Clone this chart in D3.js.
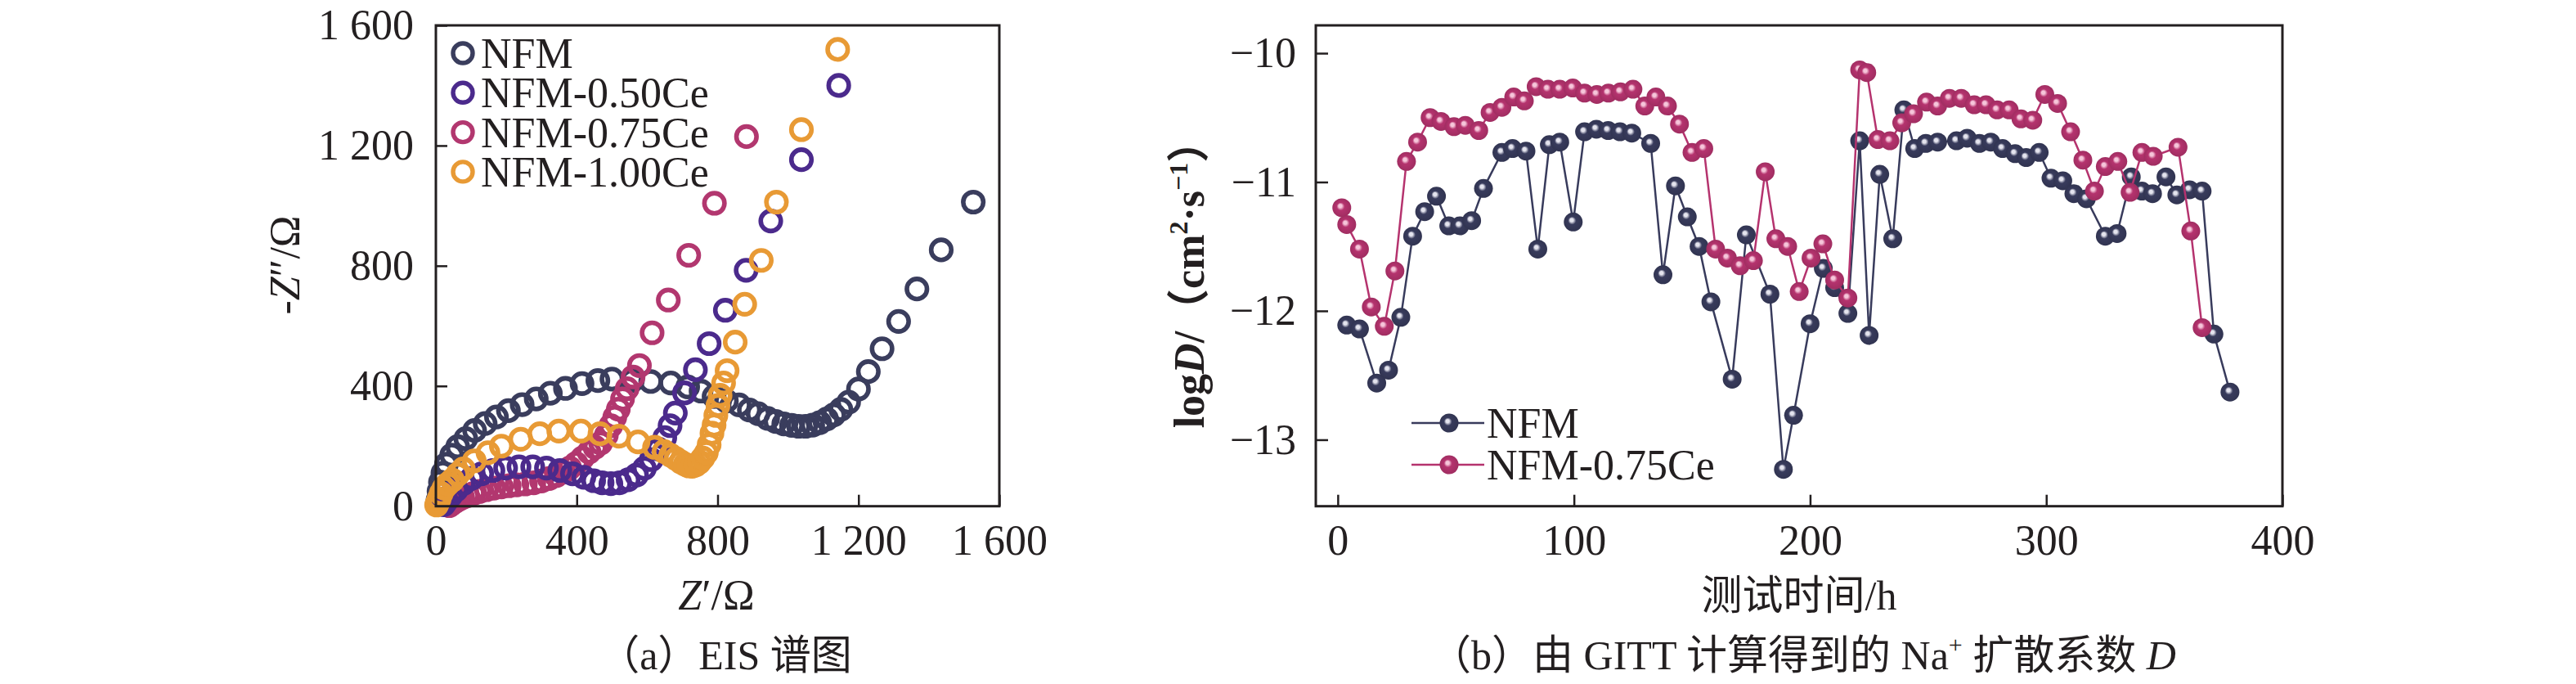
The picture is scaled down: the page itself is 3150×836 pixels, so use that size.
<!DOCTYPE html>
<html>
<head>
<meta charset="utf-8">
<script src="https://cdn.jsdelivr.net/npm/d3@7"></script>
<style>
  html, body { margin: 0; padding: 0; background: #ffffff; }
  text { font-family: "Liberation Serif", "Noto Sans CJK SC", serif; fill: #231f20; }
  .tick text { font-size: 52px; }
</style>
</head>
<body>
<div id="chart"></div>
<script>
// (a) EIS: [Z', -Z''] in ohm
var eis_nfm = [[6,20],[9,50],[13,80],[20,110],[30,140],[45,170],[62,198],[85,225],[110,252],[140,275],[172,297],[206,318],[245,338],[285,357],[325,376],[368,392],[415,408],[460,418],[500,423],[558,418],[610,415],[667,410],[715,397],[753,383],[790,365],[825,350],[861,337],[890,320],[915,308],[942,292],[965,282],[988,274],[1010,269],[1030,266],[1050,266],[1070,270],[1090,278],[1110,290],[1130,304],[1150,322],[1172,346],[1200,390],[1228,448],[1267,524],[1314,615],[1366,723],[1435,853],[1526,1012]];
var eis_050 = [[22,5],[30,18],[42,35],[58,55],[78,75],[102,93],[130,108],[162,119],[198,127],[236,131],[275,131],[314,127],[352,119],[388,108],[420,96],[448,85],[472,78],[497,75],[522,78],[546,88],[570,104],[592,126],[612,155],[632,190],[650,228],[665,268],[680,310],[706,377],[737,454],[776,541],[822,652],[881,785],[951,949],[1038,1153],[1144,1400]];
var eis_075 = [[38,2],[45,8],[54,15],[64,22],[76,29],[90,35],[106,42],[124,49],[144,55],[165,60],[186,64],[208,68],[230,71],[254,74],[278,78],[300,84],[322,92],[342,102],[362,114],[380,127],[398,142],[416,160],[435,180],[452,196],[468,210],[484,236],[497,268],[508,296],[518,323],[530,357],[543,391],[560,430],[578,468],[614,577],[660,686],[718,835],[791,1008],[882,1230]];
var eis_100 = [[2,4],[5,12],[9,24],[15,42],[23,60],[34,74],[47,87],[62,106],[78,124],[109,151],[148,178],[186,200],[241,223],[295,241],[349,250],[412,250],[466,241],[520,233],[574,214],[621,196],[648,182],[667,169],[682,158],[696,147],[708,139],[718,134],[728,133],[738,137],[748,146],[758,160],[768,178],[776,205],[784,243],[790,270],[795,302],[801,335],[807,369],[817,410],[827,451],[850,546],[877,672],[924,818],[967,1012],[1038,1253],[1141,1520]];

var eis_names = ["NFM", "NFM-0.50Ce", "NFM-0.75Ce", "NFM-1.00Ce"];
var eis_colors = ["#3a3d5d", "#4b2a8c", "#b2376f", "#e89a35"];
var eis_ticks = [0, 400, 800, 1200, 1600];

// (b) GITT: [time h, logD]
var gitt_nfm = [[3.8,-12.11],[9.2,-12.14],[16.5,-12.56],[21.5,-12.46],[26.7,-12.05],[31.7,-11.42],[36.8,-11.23],[41.8,-11.11],[47,-11.34],[51.7,-11.34],[56.7,-11.30],[61.7,-11.05],[69.5,-10.77],[74,-10.74],[79.7,-10.76],[84.7,-11.52],[89.6,-10.71],[94,-10.69],[99.7,-11.31],[104.5,-10.61],[109.5,-10.59],[114.5,-10.60],[119.5,-10.61],[124.5,-10.62],[132.5,-10.70],[137.7,-11.72],[143,-11.03],[148,-11.27],[153,-11.50],[158,-11.93],[167,-12.53],[173,-11.41],[183,-11.87],[188.7,-13.23],[193,-12.81],[200,-12.10],[205.6,-11.67],[210.4,-11.82],[216,-12.02],[221,-10.68],[225,-12.19],[229.5,-10.94],[235,-11.44],[239.7,-10.44],[244.3,-10.74],[249,-10.70],[254,-10.69],[262,-10.68],[266.5,-10.66],[271.7,-10.70],[276.5,-10.69],[281.5,-10.74],[286.8,-10.78],[291.5,-10.81],[297,-10.77],[302,-10.97],[307,-10.99],[311.7,-11.09],[317,-11.13],[325,-11.42],[330,-11.40],[336,-10.96],[340.5,-11.07],[345,-11.09],[350.7,-10.96],[355.3,-11.10],[360.7,-11.06],[366,-11.07],[371,-12.18],[377.8,-12.63]];
var gitt_ce = [[1.7,-11.20],[3.8,-11.33],[9.2,-11.52],[14.2,-11.97],[19.7,-12.12],[24.2,-11.69],[29.1,-10.84],[33.8,-10.69],[39.1,-10.50],[43.7,-10.53],[49.2,-10.57],[54,-10.56],[59.7,-10.60],[64.5,-10.46],[69.5,-10.42],[74.5,-10.34],[79,-10.37],[84,-10.26],[89,-10.28],[94,-10.28],[99.5,-10.27],[104.5,-10.31],[109.7,-10.32],[114.6,-10.31],[119.7,-10.30],[125,-10.28],[130,-10.41],[134.7,-10.34],[139.6,-10.41],[144.7,-10.55],[150,-10.77],[155,-10.74],[160,-11.52],[165,-11.59],[170.4,-11.65],[176,-11.61],[181,-10.92],[185.5,-11.44],[190.5,-11.50],[195.4,-11.85],[200.4,-11.59],[205.4,-11.48],[210.4,-11.76],[216,-11.90],[221,-10.13],[224,-10.15],[228.7,-10.67],[233.8,-10.68],[238.8,-10.54],[243.8,-10.47],[249.3,-10.38],[254,-10.41],[259,-10.35],[264,-10.35],[269.5,-10.40],[274.5,-10.40],[279.2,-10.44],[284.3,-10.44],[289.3,-10.51],[294.3,-10.52],[299.4,-10.32],[304.8,-10.39],[310.3,-10.61],[315.5,-10.83],[320.4,-11.07],[325,-10.88],[330.3,-10.84],[335.5,-11.08],[340.5,-10.77],[345.3,-10.80],[355.8,-10.73],[361.2,-11.38],[366,-12.13]];

var gitt_names = ["NFM", "NFM-0.75Ce"];
var gitt_colors = ["#383b5c", "#b5336e"];
var gitt_light = ["#e4e4ee", "#f6c6da"];
var gitt_xticks = [0, 100, 200, 300, 400];
var gitt_yticks = [-13, -12, -11, -10];

var width = 3150, height = 836;

var svg = d3.select("#chart").append("svg")
  .attr("width", width)
  .attr("height", height)
  .attr("viewBox", [0, 0, width, height]);

svg.append("rect").attr("width", width).attr("height", height).attr("fill", "#ffffff");

var space_fmt = d3.formatLocale({ decimal: ".", thousands: " ", grouping: [3], currency: ["", ""] }).format(",");

// ---------- panel (a) ----------
var xA = d3.scaleLinear().domain([0, 1600]).range([533, 1222]);
var yA = d3.scaleLinear().domain([0, 1600]).range([618.7, 31]);

function frame(x, y) {
  svg.append("rect")
    .attr("x", x.range()[0])
    .attr("y", y.range()[1])
    .attr("width", x.range()[1] - x.range()[0])
    .attr("height", y.range()[0] - y.range()[1])
    .attr("fill", "none")
    .attr("stroke", "#231f20")
    .attr("stroke-width", 3);
}

function style_axis(g) {
  g.select(".domain").remove();
  g.selectAll(".tick line").attr("stroke", "#231f20").attr("stroke-width", 2.5);
  g.selectAll(".tick text").attr("fill", "#231f20");
}

svg.append("g")
  .attr("transform", "translate(0," + yA.range()[0] + ")")
  .call(d3.axisBottom(xA).tickValues(eis_ticks).tickSizeInner(-14).tickSizeOuter(0).tickPadding(22).tickFormat(space_fmt))
  .call(style_axis);

svg.append("g")
  .attr("transform", "translate(" + xA.range()[0] + ",0)")
  .call(d3.axisLeft(yA).tickValues(eis_ticks).tickSizeInner(-14).tickSizeOuter(0).tickPadding(27).tickFormat(space_fmt))
  .call(style_axis);

// rings: drawn NFM, 0.75, 0.50, 1.00 so orange ends on top
var eis_series = [eis_nfm, eis_050, eis_075, eis_100];
[0, 2, 1, 3].forEach(function (k) {
  svg.append("g")
    .selectAll("circle")
    .data(eis_series[k])
    .enter()
    .append("circle")
    .attr("cx", (d) => xA(d[0]))
    .attr("cy", (d) => yA(d[1]))
    .attr("r", 12.3)
    .attr("fill", "none")
    .attr("stroke", eis_colors[k])
    .attr("stroke-width", 5.6);
});

frame(xA, yA);

// legend (a)
var legA = svg.append("g");
eis_names.forEach(function (name, i) {
  var cy = 65 + i * 48.3;
  legA.append("circle")
    .attr("cx", 566).attr("cy", cy).attr("r", 12)
    .attr("fill", "none").attr("stroke", eis_colors[i]).attr("stroke-width", 5.4);
  legA.append("text")
    .attr("x", 588).attr("y", cy + 18)
    .attr("font-size", 52)
    .text(name);
});

// axis titles (a)
var xtA = svg.append("text")
  .attr("x", 876).attr("y", 745)
  .attr("text-anchor", "middle")
  .attr("font-size", 52);
xtA.append("tspan").attr("font-style", "italic").text("Z");
xtA.append("tspan").text("\u2032/\u03A9");

var ytA = svg.append("text")
  .attr("transform", "translate(366,324) rotate(-90)")
  .attr("text-anchor", "middle")
  .attr("font-size", 52);
ytA.append("tspan").text("-");
ytA.append("tspan").attr("font-style", "italic").text("Z");
ytA.append("tspan").text("\u2033/\u03A9");

svg.append("text")
  .attr("x", 887).attr("y", 818)
  .attr("text-anchor", "middle")
  .attr("font-size", 50)
  .text("\uFF08a\uFF09EIS \u8C31\u56FE");

// ---------- panel (b) ----------
var xB = d3.scaleLinear().domain([-9.3, 400]).range([1609, 2791]);
var yB = d3.scaleLinear().domain([-13.516, -9.784]).range([618.7, 31]);

svg.append("g")
  .attr("transform", "translate(0," + yB.range()[0] + ")")
  .call(d3.axisBottom(xB).tickValues(gitt_xticks).tickSizeInner(-14).tickSizeOuter(0).tickPadding(22).tickFormat(d3.format("d")))
  .call(style_axis);

svg.append("g")
  .attr("transform", "translate(" + xB.range()[0] + ",0)")
  .call(d3.axisLeft(yB).tickValues(gitt_yticks).tickSizeInner(-15).tickSizeOuter(0).tickPadding(24).tickFormat(d3.format("d")))
  .call(style_axis);

var defs = svg.append("defs");
gitt_colors.forEach(function (c, i) {
  var grad = defs.append("radialGradient")
    .attr("id", "sphere-" + i)
    .attr("cx", "50%").attr("cy", "50%").attr("r", "50%")
    .attr("fx", "40%").attr("fy", "38%");
  grad.append("stop").attr("offset", "0%").attr("stop-color", gitt_light[i]);
  grad.append("stop").attr("offset", "18%").attr("stop-color", gitt_light[i]);
  grad.append("stop").attr("offset", "42%").attr("stop-color", c);
  grad.append("stop").attr("offset", "100%").attr("stop-color", d3.color(c).darker(0.35));
});

var line = d3.line().x((d) => xB(d[0])).y((d) => yB(d[1]));

[gitt_nfm, gitt_ce].forEach(function (series, i) {
  svg.append("path")
    .datum(series)
    .attr("d", line)
    .attr("fill", "none")
    .attr("stroke", gitt_colors[i])
    .attr("stroke-width", 2.5);

  svg.append("g")
    .selectAll("circle")
    .data(series)
    .enter()
    .append("circle")
    .attr("cx", (d) => xB(d[0]))
    .attr("cy", (d) => yB(d[1]))
    .attr("r", 11.5)
    .attr("fill", "url(#sphere-" + i + ")");
});

frame(xB, yB);

// legend (b)
var legB = svg.append("g");
gitt_names.forEach(function (name, i) {
  var cy = 517 + i * 51;
  legB.append("line")
    .attr("x1", 1726).attr("x2", 1815)
    .attr("y1", cy).attr("y2", cy)
    .attr("stroke", gitt_colors[i]).attr("stroke-width", 2.5);
  legB.append("circle")
    .attr("cx", 1772).attr("cy", cy).attr("r", 11.5)
    .attr("fill", "url(#sphere-" + i + ")");
  legB.append("text")
    .attr("x", 1818).attr("y", cy + 18)
    .attr("font-size", 52)
    .text(name);
});

// axis titles (b)
svg.append("text")
  .attr("x", 2200).attr("y", 745)
  .attr("text-anchor", "middle")
  .attr("font-size", 50)
  .text("\u6D4B\u8BD5\u65F6\u95F4/h");

var ytB = svg.append("text")
  .attr("transform", "translate(1472,335) rotate(-90)")
  .attr("text-anchor", "middle")
  .attr("font-size", 52)
  .attr("font-weight", "bold");
ytB.append("tspan").text("log");
ytB.append("tspan").attr("font-style", "italic").text("D");
ytB.append("tspan").text("/\uFF08cm");
ytB.append("tspan").attr("font-size", 32).attr("dy", -20).text("2");
ytB.append("tspan").attr("dy", 20).text("\u00B7s");
ytB.append("tspan").attr("font-size", 32).attr("dy", -20).text("\u22121");
ytB.append("tspan").attr("dy", 20).text("\uFF09");

var capB = svg.append("text")
  .attr("x", 2205).attr("y", 818)
  .attr("text-anchor", "middle")
  .attr("font-size", 50);
capB.append("tspan").text("\uFF08b\uFF09\u7531 GITT \u8BA1\u7B97\u5F97\u5230\u7684 Na");
capB.append("tspan").attr("font-size", 30).attr("dy", -20).text("+");
capB.append("tspan").attr("dy", 20).text(" \u6269\u6563\u7CFB\u6570 ");
capB.append("tspan").attr("font-style", "italic").text("D");
</script>
</body>
</html>
